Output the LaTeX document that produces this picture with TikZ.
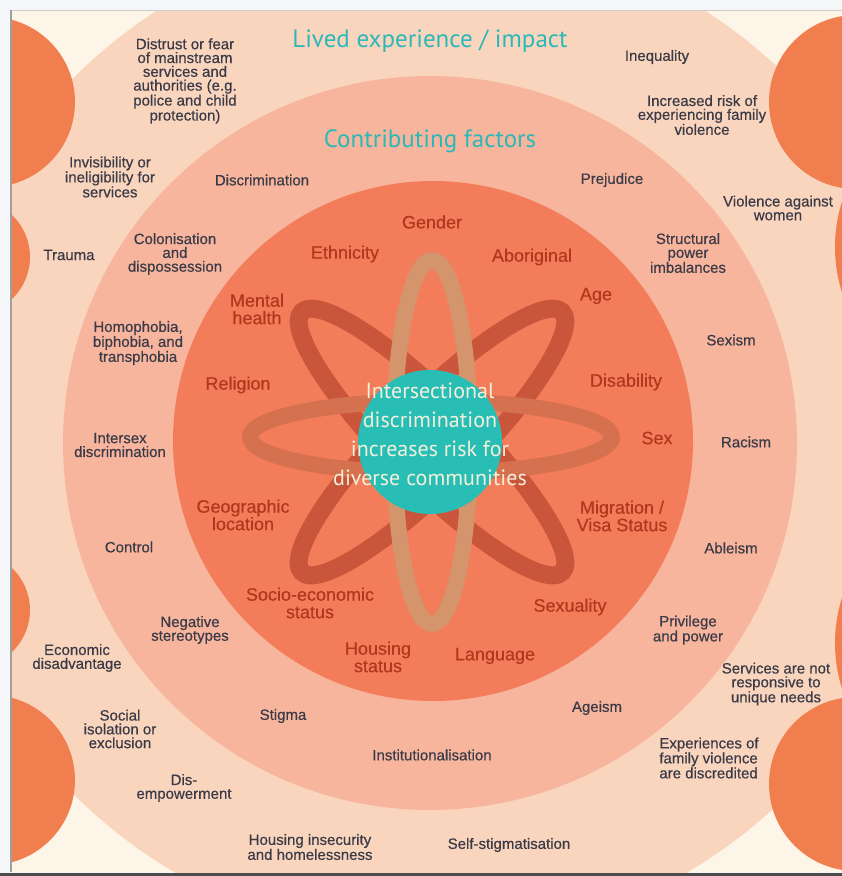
\documentclass[tikz,border=0pt]{standalone}
\usepackage{fontspec}
\setmainfont{Liberation Sans}[FakeBold=0.4]
\newfontfamily\inkfont{Liberation Sans}[FakeBold=0.5]
\newfontfamily\corefont{PT Sans}
\usepackage{tikz}

\definecolor{pagewhite}{HTML}{F5F6F8}
\definecolor{cream}{HTML}{FDF5E7}
\definecolor{ringout}{HTML}{FAD5BE}
\definecolor{ringmid}{HTML}{F8B59D}
\definecolor{ringin}{HTML}{F37D5B}
\definecolor{blob}{HTML}{F07E4F}
\definecolor{coreteal}{HTML}{29BEB5}
\definecolor{headteal}{HTML}{2BB8B8}
\definecolor{corecream}{HTML}{F2F0DA}
\definecolor{diagorbit}{HTML}{C9563B}
\definecolor{flatorbit}{HTML}{D6714F}
\definecolor{uporbit}{HTML}{D4946C}
\definecolor{factorred}{HTML}{B5361F}
\definecolor{inkgray}{HTML}{3A3B47}

\begin{document}
\begin{tikzpicture}[x=1pt,y=-1pt,
    outer/.style={text=inkgray,font=\inkfont\fontsize{15}{13.8}\selectfont,align=center,inner sep=0pt},
    factor/.style={text=factorred,font=\fontsize{18}{17.5}\selectfont,align=center,inner sep=0pt},
    heading/.style={text=headteal,font=\corefont\fontsize{25}{25}\selectfont,inner sep=0pt},
    orbit/.style={line width=16pt}]

\useasboundingbox (0,0) rectangle (842,876);
\fill[pagewhite] (0,0) rectangle (842,876);

\begin{scope}
  \clip (12,11) rectangle (842,872);
  \fill[cream] (12,11) rectangle (842,872);
  \fill[ringout] (431,436) circle (506pt); % lived experience ring
  \fill[ringmid] (430,443) circle (367pt); % contributing factors ring
  \fill[ringin] (433,441) circle (260pt); % inner disc

  % half hidden discs at the sides
  \fill[blob] (-10,102) circle (85pt);
  \fill[blob] (-28,257) circle (58pt);
  \fill[blob] (-28,610) circle (58pt);
  \fill[blob] (-10,780) circle (85pt);
  \fill[blob] (856,102) circle (87pt);
  \fill[blob] (985,247) circle (150pt);
  \fill[blob] (985,643) circle (150pt);
  \fill[blob] (856,784) circle (87pt);
\end{scope}

% frame lines
\draw[gray!40,line width=1pt] (12,10.5) -- (842,10.5);
\draw[gray!75,line width=2pt] (11,10) -- (11,872);
\draw[black!70,line width=3pt] (0,874.5) -- (842,874.5);

% the atom
\draw[orbit,diagorbit,line width=18pt] (432,442) ellipse [x radius=184pt,y radius=41pt,rotate=45];
\draw[orbit,diagorbit,line width=18pt] (432,442) ellipse [x radius=184pt,y radius=41pt,rotate=-45];
\draw[orbit,flatorbit] (431,437) ellipse [x radius=181pt,y radius=36pt];
\draw[orbit,uporbit] (432,442) ellipse [x radius=38pt,y radius=182pt];
\fill[coreteal] (430,442) circle (72pt);

\node[text=corecream,font=\corefont\fontsize{22}{29}\selectfont,align=center] (core) at (430,434)
  {Intersectional\\discrimination\\increases risk for\\diverse communities};

\node[heading] (lived) at (430,41) {Lived experience / impact};
\node[heading] (contrib) at (430,141) {Contributing factors};

% factors round the atom
\node[factor] (gender) at (432,222) {Gender};
\node[factor] (ethnicity) at (345,254) {Ethnicity};
\node[factor] (aboriginal) at (532,257) {Aboriginal};
\node[factor] (age) at (596,296) {Age};
\node[factor] (mental) at (257,309) {Mental\\health};
\node[factor] (religion) at (238,385) {Religion};
\node[factor] (disability) at (626,382) {Disability};
\node[factor] (sex) at (657,438) {Sex};
\node[factor] (geographic) at (243,515) {Geographic\\location};
\node[factor] (migration) at (622,516) {Migration /\\Visa Status};
\node[factor] (socio) at (310,603) {Socio-economic\\status};
\node[factor] (sexuality) at (570,607) {Sexuality};
\node[factor] (housing) at (378,657) {Housing\\status};
\node[factor] (language) at (495,656) {Language};

% contributing factors ring
\node[outer] (discrimination) at (262,180) {Discrimination};
\node[outer] (prejudice) at (612,180) {Prejudice};
\node[outer] (colonisation) at (175,254) {Colonisation\\and\\dispossession};
\node[outer] (structural) at (688,253) {Structural\\power\\imbalances};
\node[outer] (homophobia) at (138,343) {Homophobia,\\biphobia, and\\transphobia};
\node[outer] (sexism) at (731,340) {Sexism};
\node[outer] (intersex) at (120,445) {Intersex\\discrimination};
\node[outer] (racism) at (746,442) {Racism};
\node[outer] (control) at (129,547) {Control};
\node[outer] (ableism) at (731,548) {Ableism};
\node[outer] (stereotypes) at (190,630) {Negative\\stereotypes};
\node[outer] (privilege) at (688,630) {Privilege\\and power};
\node[outer] (stigma) at (283,716) {Stigma};
\node[outer] (ageism) at (597,708) {Ageism};
\node[outer] (institution) at (432,755) {Institutionalisation};

% lived experience ring
\node[outer] (distrust) at (185,81) {Distrust or fear\\of mainstream\\services and\\authorities (e.g.\\police and child\\protection)};
\node[outer] (inequality) at (657,57) {Inequality};
\node[outer] (riskfv) at (702,115) {Increased risk of\\experiencing family\\violence};
\node[outer] (invisible) at (110,177) {Invisibility or\\ineligibility for\\services};
\node[outer] (vaw) at (778,208) {Violence against\\women};
\node[outer] (trauma) at (69,255) {Trauma};
\node[outer] (economic) at (77,658) {Economic\\disadvantage};
\node[outer] (services) at (776,684) {Services are not\\responsive to\\unique needs};
\node[outer] (isolation) at (120,729) {Social\\isolation or\\exclusion};
\node[outer,align=left] (discredited) at (709,758) {Experiences of\\family violence\\are discredited};
\node[outer] (disempower) at (184,788) {Dis-\\empowerment};
\node[outer] (insecurity) at (310,847) {Housing insecurity\\and homelessness};
\node[outer] (selfstigma) at (509,845) {Self-stigmatisation};

\end{tikzpicture}
\end{document}
